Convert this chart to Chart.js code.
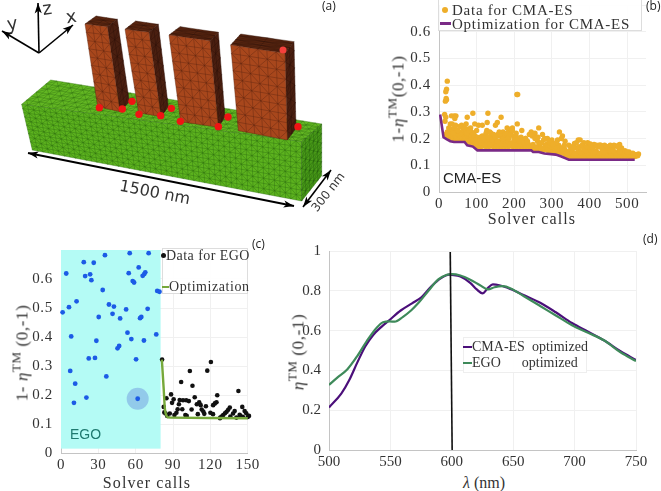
<!DOCTYPE html>
<html>
<head>
<meta charset="utf-8">
<script src="https://cdn.jsdelivr.net/npm/chart.js@4"></script>
<style>
  html, body { margin: 0; padding: 0; background: #fff; overflow: hidden; }
  body { position: relative; width: 661px; height: 491px; }
  canvas { position: absolute; }
  .txt { position: absolute; white-space: pre; color: #333; font-family: "Liberation Serif", serif; line-height: 1; }
  .c { transform: translate(-50%, -50%); }
  .title { font-size: 16px; letter-spacing: 1.1px; }
  .ytitle { font-size: 17px; letter-spacing: .6px; }
  .ytitle sup { font-size: 13px; line-height: 0; }
  .panel { font-family: "Open Sans", sans-serif; font-size: 12px; color: #222; }
  .box { position: absolute; background: rgba(255,255,255,.9); border: 1px solid #ddd; box-sizing: border-box; }
  .key { position: absolute; }
</style>
</head>
<body>
<canvas id="mesh" width="345" height="225" style="left:0;top:0"></canvas>
<canvas id="chartB" style="left:400px;top:-12px"></canvas>
<canvas id="chartC" style="left:0;top:233px"></canvas>
<canvas id="chartD" style="left:290px;top:234px"></canvas>

<div class="txt panel" style="left:322px;top:0px">(a)</div>
<div class="txt panel" style="left:646px;top:0px">(b)</div>
<div class="txt panel" style="left:252px;top:238px">(c)</div>
<div class="txt panel" style="left:643px;top:233px">(d)</div>

<div class="txt c" style="left:47px;top:8px;font:18px 'DejaVu Sans';transform:translate(-50%,-50%) rotate(-8deg)">z</div>
<div class="txt c" style="left:71px;top:16px;font:18px 'DejaVu Sans';transform:translate(-50%,-50%) rotate(-8deg)">x</div>
<div class="txt c" style="left:12px;top:23px;font:18px 'DejaVu Sans';transform:translate(-50%,-50%) rotate(-8deg)">y</div>
<div class="txt c" style="left:155px;top:192px;font:16px 'DejaVu Sans';transform:translate(-50%,-50%) rotate(11deg)">1500 nm</div>
<div class="txt c" style="left:328px;top:192px;font:12px 'DejaVu Sans';transform:translate(-50%,-50%) rotate(-52deg)">300 nm</div>

<div class="box" style="left:438px;top:-1px;width:204px;height:32px"></div>
<div class="key" style="left:442px;top:7px;width:6px;height:6px;border-radius:50%;background:#eeae2a"></div>
<div class="txt title" style="left:452px;top:3px;letter-spacing:.75px;font-size:15px">Data for CMA-ES</div>
<div class="key" style="left:440px;top:22px;width:11px;height:3px;background:#7a2a86"></div>
<div class="txt title" style="left:452px;top:17px;letter-spacing:.75px;font-size:15px">Optimization for CMA-ES</div>
<div class="txt" style="left:443px;top:169px;font:15px 'Liberation Sans';color:#222">CMA-ES</div>
<div class="txt title c" style="left:532px;top:219px">Solver calls</div>
<div class="txt ytitle c" style="left:398px;top:99px;transform:translate(-50%,-50%) rotate(-90deg)">1-<i>η</i><sup>TM</sup>(0,-1)</div>

<div class="box" style="left:162px;top:248px;width:86px;height:46px"></div>
<div class="key" style="left:161px;top:253px;width:5px;height:5px;border-radius:50%;background:#111"></div>
<div class="txt" style="left:166px;top:249px;font-size:14px;letter-spacing:.45px">Data for EGO</div>
<div class="key" style="left:162px;top:286px;width:7px;height:2px;background:#76a83a"></div>
<div class="txt" style="left:169px;top:280px;font-size:14px;letter-spacing:.55px">Optimization</div>
<div class="txt" style="left:70px;top:426px;font:14px 'Liberation Sans';color:#1f7a70">EGO</div>
<div class="txt title c" style="left:147px;top:483px">Solver calls</div>
<div class="txt ytitle c" style="left:22px;top:353px;transform:translate(-50%,-50%) rotate(-90deg)">1- <i>η</i><sup>TM</sup> (0,-1)</div>

<div class="box" style="left:463px;top:337px;width:124px;height:36px;border-color:#eee"></div>
<div class="key" style="left:463px;top:346px;width:9px;height:2px;background:#4b0f7a"></div>
<div class="txt" style="left:472px;top:340px;font-size:14px">CMA-ES  optimized</div>
<div class="key" style="left:463px;top:362px;width:9px;height:2px;background:#3e8a5a"></div>
<div class="txt" style="left:472px;top:356px;font-size:14px">EGO      optimized</div>
<div class="txt c" style="left:484px;top:483px;font-size:16px"><i>λ</i> (nm)</div>
<div class="txt ytitle c" style="left:298px;top:352px;transform:translate(-50%,-50%) rotate(-90deg)"><i>η</i><sup>TM</sup> (0,-1)</div>

<script>
// (b) CMA-ES
const cmaTicks = [0,100,200,300,400,500];
const cmaCalls = [
  22,20,18,20,17,19,209,207,15,18,16,33,40,45,42,30,90,130,75,165,155,150,208,128,105,115,95,265,320,245,255,185,195,170,
  18,20,22,25,27,30,33,36,39,42,45,48,51,54,57,60,63,66,69,72,75,78,81,84,87,90,93,96,99,
  22,25,28,31,34,37,40,43,46,49,52,55,58,61,64,67,70,73,76,79,82,85,88,91,94,97,100,
  28,35,41,47,53,59,65,71,77,83,89,95,101,26,38,50,62,74,86,98,
  104,108,112,116,120,124,128,132,136,140,144,148,152,156,160,164,168,172,176,180,184,188,192,196,200,204,208,212,216,220,224,228,232,236,240,
  106,111,117,123,129,135,141,147,153,159,165,171,177,183,189,195,201,207,213,219,225,231,237,243,
  110,122,134,138,146,158,162,174,178,186,190,198,202,206,210,218,222,
  127,142,157,168,181,193,215,230,248,258,
  244,248,252,256,260,264,268,272,276,280,284,288,292,296,300,304,308,312,316,320,324,328,332,336,340,
  250,258,266,274,282,290,298,306,314,322,330,338,
  262,270,278,286,294,302,310,318,326,334,
  275,288,300,312,335,328,
  344,348,352,356,360,364,368,372,376,380,384,388,392,396,400,404,408,412,416,420,424,428,432,436,440,444,448,452,456,460,464,468,472,476,480,484,488,492,496,500,504,508,512,516,520,524,528,530,
  346,354,362,370,378,386,394,402,410,418,426,434,442,450,458,466,474,482,490,498,506,514,522,
  350,358,366,374,382,390,398,406,414,422,430,438,446,454,462,470,478,486,494,
  345,360,372,385,398,412,425,440,452,465,480,505,525,
  370,395,418,445,478,480,350,340,385,
  110,115,120,125,130,135,140,145,150,155,160,165,170,175,180,185,190,195,200,205,210,215,220,225,230,235,240,
  35,44,55,60,68,72,80,84,92,100,
  355,365,375,380,392,402,408,420,428,433,445,455,462,475,485,500,515,
  255,263,272,281,292,303,315,325,333
];
const cmaLoss = [
  .415,.385,.375,.345,.34,.35,.365,.365,.29,.28,.265,.285,.285,.285,.275,.255,.295,.295,.28,.28,.26,.25,.255,.26,.25,.25,.255,.24,.225,.225,.22,.235,.24,.225,
  .215,.212,.21,.21,.206,.204,.202,.2,.2,.2,.2,.2,.2,.2,.2,.2,.2,.2,.196,.192,.19,.188,.186,.184,.182,.18,.178,.175,.17,
  .225,.22,.215,.215,.22,.208,.215,.21,.206,.21,.215,.206,.21,.205,.215,.204,.205,.203,.21,.205,.196,.2,.197,.192,.2,.186,.185,
  .235,.235,.24,.23,.225,.225,.23,.225,.235,.215,.22,.21,.205,.24,.22,.23,.245,.22,.225,.195,
  .17,.175,.17,.172,.18,.17,.178,.17,.172,.18,.17,.176,.17,.182,.17,.175,.17,.18,.17,.176,.17,.172,.18,.17,.178,.17,.17,.182,.17,.175,.17,.178,.17,.174,.17,
  .19,.185,.195,.175,.19,.18,.195,.185,.175,.19,.18,.195,.18,.19,.175,.185,.175,.18,.19,.178,.185,.172,.18,.172,
  .205,.21,.205,.22,.2,.215,.21,.205,.215,.2,.225,.21,.195,.205,.198,.205,.195,
  .23,.2,.215,.205,.24,.23,.198,.2,.21,.205,
  .168,.172,.163,.163,.168,.16,.165,.162,.157,.158,.165,.156,.158,.152,.158,.155,.152,.152,.156,.146,.152,.146,.148,.14,.136,
  .178,.168,.18,.162,.175,.162,.17,.165,.16,.165,.155,.152,
  .19,.182,.195,.178,.185,.178,.17,.175,.165,.16,
  .215,.2,.195,.185,.19,.21,
  .133,.136,.133,.14,.133,.136,.133,.142,.133,.135,.133,.14,.133,.136,.133,.145,.133,.138,.133,.14,.133,.135,.133,.142,.133,.136,.133,.14,.133,.135,.133,.145,.133,.138,.133,.14,.133,.135,.133,.142,.133,.136,.133,.138,.133,.135,.136,.142,
  .148,.155,.145,.16,.148,.15,.145,.158,.145,.152,.145,.16,.147,.155,.145,.15,.145,.158,.145,.14,.14,.135,.14,
  .16,.17,.165,.152,.17,.155,.165,.17,.15,.168,.175,.15,.17,.155,.16,.172,.155,.15,.155,
  .175,.182,.17,.185,.17,.178,.175,.175,.165,.175,.178,.15,.14,
  .195,.185,.175,.165,.175,.15,.17,.145,.16,
  .195,.21,.2,.22,.205,.225,.195,.215,.205,.19,.225,.21,.2,.215,.22,.205,.215,.23,.195,.22,.2,.19,.23,.185,.2,.19,.215,
  .255,.25,.245,.25,.24,.255,.23,.24,.22,.23,
  .165,.185,.195,.175,.17,.18,.165,.17,.175,.165,.17,.175,.155,.17,.165,.15,.145,
  .2,.205,.185,.2,.19,.18,.195,.2,.175
];
const cmaBestCalls = [3,12,20,30,40,68,75,90,102,245,250,265,280,310,325,335,345,520];
const cmaBest = [.29,.205,.198,.19,.187,.187,.175,.17,.156,.156,.15,.15,.144,.14,.133,.127,.121,.121];

// (c) EGO, the initial sample first, then the infill points
const egoTicks = [0,30,60,90,120,150];
const egoSampleCalls = [1.3,4.2,6.4,12.5,8.2,7.4,11.4,10.4,18.3,19.4,23.4,24.4,26.3,35.3,55.2,70.4,33.5,30.3,38.5,42.5,41.4,47.5,52.3,54.4,62.4,57.6,58.7,65.6,66.9,67.7,77.3,79.1,69.6,64.5,63.5,76.5,53.4,56.5,66.6,28.4,45.4,46.7,22.3,27.3,60.3,36.4,20.4,61.6];
const egoSampleLoss = [.485,.619,.503,.523,.402,.283,.239,.173,.658,.61,.616,.596,.656,.682,.689,.689,.562,.469,.512,.505,.48,.464,.495,.62,.64,.593,.588,.611,.617,.623,.559,.556,.497,.469,.465,.409,.415,.393,.388,.387,.361,.369,.326,.328,.323,.264,.191,.187];
const egoCalls = [81.2,120.4,103.5,117.5,96.5,105.6,142.5,125.5,88.4,84.7,107.4,90.5,95.3,98,100.6,102.7,89.2,94.7,124.9,123.6,122.2,111,109.1,112.2,116.4,93.7,97.4,104.9,82.5,145.6,113,114.3,115.1,135.6,134.3,133,131.7,130.3,129,147.5,148.8,139.5,138.2,87.4,92.7,91.1,84,85.3,99.9,101,109.9,120,122.1,143.5,151,127.7,140.9,83,150,146,144,136,128];
const egoLoss = [.322,.314,.283,.284,.245,.232,.214,.199,.202,.189,.192,.185,.183,.182,.182,.179,.173,.168,.175,.171,.165,.175,.168,.165,.161,.151,.151,.15,.159,.159,.15,.143,.135,.157,.149,.142,.137,.131,.126,.145,.137,.145,.136,.136,.139,.131,.136,.128,.131,.128,.134,.139,.134,.132,.128,.12,.122,.14,.124,.125,.128,.126,.122];
const egoBestCalls = [81,82.5,83.5,85,88,150];
const egoBest = [.322,.22,.15,.126,.122,.12];
const highlightCall = [61.6];
const highlightLoss = [.187];
const sampleEnd = 80;
const sampleFloor = 0.015;

// (d) spectra
const waveTicks = [500,550,600,650,700,750];
const cmaWave = [500,510,516.3,523,529.5,536,542.7,549,558.4,567.6,575.5,583.4,591.3,597.9,600,607,615,620.3,625,629.5,633.4,638.7,645.3,658.4,671.6,684.7,697.9,711,724.2,737.4,750];
const cmaEff = [.214,.283,.349,.439,.52,.578,.619,.652,.701,.737,.769,.823,.864,.881,.88,.872,.84,.807,.787,.815,.832,.828,.815,.779,.741,.692,.638,.594,.55,.496,.452];
const egoWave = [500,507,515,523,531,539,544,549.5,553.5,560,566.8,573.3,581,589,596,600,607,615,623,629.5,634.8,641.4,648,658.4,671.6,684.7,697.9,711,724.2,737.4,750];
const egoEff = [.327,.365,.406,.472,.55,.616,.642,.646,.645,.668,.701,.742,.8,.857,.881,.884,.877,.856,.828,.807,.818,.823,.812,.774,.725,.676,.627,.589,.55,.491,.447];
const markWave = [598.7,600.3];
const markEff = [.995,0];

const pts = (xs, ys) => xs.map((x, i) => ({ x, y: ys[i] }));

const SERIF = "'Liberation Serif', serif";
const spacing = px => ({
  id: "spacing",
  beforeDraw: chart => { chart.ctx.letterSpacing = px; }
});

function axes(o) {
  return {
    x: {
      type: "linear", min: o.xMin, max: o.xMax,
      afterFit: s => { s.height = 20; },
      afterBuildTicks: s => { s.ticks = o.xTicks.map(value => ({ value })); },
      grid: { color: "#f0f0f0", drawTicks: false },
      border: { color: "#c4c4c4" },
      ticks: { padding: 3, maxRotation: 0, autoSkip: false, color: "#333", font: { family: SERIF, size: o.size }, callback: v => String(v) }
    },
    y: {
      min: 0, max: o.yMax,
      afterFit: s => { s.width = o.yWidth; },
      grid: { color: "#f0f0f0", drawTicks: false },
      border: { color: "#c4c4c4" },
      ticks: {
        stepSize: o.yStep, padding: 8, color: "#333", font: { family: SERIF, size: o.size },
        callback: v => v === 0 ? "0" : v > 0.65 && o.yMax < 1 ? "" : v === 1 ? "1" : v.toFixed(1)
      }
    }
  };
}

function makeChart(id, w, h, datasets, scales, padding, plugins) {
  const canvas = document.getElementById(id);
  canvas.width = w;
  canvas.height = h;
  return new Chart(canvas, {
    type: "scatter",
    data: { datasets },
    options: {
      responsive: false,
      animation: false,
      layout: { padding },
      plugins: { legend: { display: false }, tooltip: { enabled: false } },
      scales
    },
    plugins
  });
}

makeChart("chartB", 261, 224, [
  { data: pts(cmaCalls, cmaLoss), backgroundColor: "#eeae2a", borderWidth: 0, pointRadius: 2.7, order: 2 },
  { data: pts(cmaBestCalls, cmaBest), showLine: true, borderColor: "#7a2a86", borderWidth: 2.6, pointRadius: 0, tension: 0, order: 1 }
], axes({ xMin: 0, xMax: 550, xTicks: cmaTicks, yMax: .7, yStep: .1, yWidth: 39, size: 15 }),
  { top: 12, right: 15, left: 0, bottom: 0 }, [spacing("0.7px")]);

const cyanBand = {
  id: "cyanBand",
  beforeDatasetsDraw(chart) {
    const { ctx, scales: { x, y }, chartArea } = chart;
    ctx.save();
    ctx.fillStyle = "#b4fbf5";
    ctx.fillRect(x.getPixelForValue(0), chartArea.top, x.getPixelForValue(sampleEnd) - x.getPixelForValue(0), y.getPixelForValue(sampleFloor) - chartArea.top);
    ctx.restore();
  }
};

makeChart("chartC", 262, 240, [
  { data: pts(egoBestCalls, egoBest), showLine: true, borderColor: "#76a83a", borderWidth: 2.4, pointRadius: 0, tension: .2, order: 1, clip: false },
  { data: pts(egoCalls, egoLoss), backgroundColor: "#111", borderWidth: 0, pointRadius: 2.3, order: 2, clip: false },
  { data: pts(egoSampleCalls, egoSampleLoss), backgroundColor: "#1c5be6", borderWidth: 0, pointRadius: 2.4, order: 3, clip: false },
  { data: pts(highlightCall, highlightLoss), backgroundColor: "rgba(70,90,210,.3)", borderWidth: 0, pointRadius: 11, order: 4 }
], axes({ xMin: 0, xMax: 150, xTicks: egoTicks, yMax: .7, yStep: .1, yWidth: 61, size: 15 }),
  { top: 12, right: 12, left: 0, bottom: 0 }, [spacing("0.7px"), cyanBand]);

makeChart("chartD", 371, 236, [
  { data: pts(markWave, markEff), showLine: true, borderColor: "#111", borderWidth: 1.6, pointRadius: 0, order: 1, clip: false },
  { data: pts(egoWave, egoEff), showLine: true, borderColor: "#3e8a5a", borderWidth: 2.2, pointRadius: 0, cubicInterpolationMode: "monotone", order: 2 },
  { data: pts(cmaWave, cmaEff), showLine: true, borderColor: "#4b0f7a", borderWidth: 2.2, pointRadius: 0, cubicInterpolationMode: "monotone", order: 3 }
], axes({ xMin: 500, xMax: 750, xTicks: waveTicks, yMax: 1, yStep: .2, yWidth: 39, size: 15 }),
  { top: 12, right: 25, left: 0, bottom: 0 }, []);

// (a) device sketch, not a chart: mesh faces on a plain canvas
const ctx = document.getElementById("mesh").getContext("2d");
const S = 1 / 3;

function meshFace(p, nu, nv, fill, edge) {
  const at = (u, v) => {
    const a = [p[0][0] + (p[1][0] - p[0][0]) * u, p[0][1] + (p[1][1] - p[0][1]) * u];
    const b = [p[3][0] + (p[2][0] - p[3][0]) * u, p[3][1] + (p[2][1] - p[3][1]) * u];
    return [(a[0] + (b[0] - a[0]) * v) * S, (a[1] + (b[1] - a[1]) * v) * S];
  };
  ctx.beginPath();
  p.forEach((q, i) => i ? ctx.lineTo(q[0] * S, q[1] * S) : ctx.moveTo(q[0] * S, q[1] * S));
  ctx.closePath();
  ctx.fillStyle = fill;
  ctx.fill();
  ctx.strokeStyle = edge;
  ctx.lineWidth = .4;
  ctx.beginPath();
  for (let i = 0; i <= nu; i++) {
    ctx.moveTo(...at(i / nu, 0));
    ctx.lineTo(...at(i / nu, 1));
  }
  for (let j = 0; j <= nv; j++) {
    ctx.moveTo(...at(0, j / nv));
    ctx.lineTo(...at(1, j / nv));
  }
  for (let i = 0; i < nu; i++) {
    for (let j = 0; j < nv; j++) {
      if ((i + j) % 2) {
        ctx.moveTo(...at(i / nu, j / nv));
        ctx.lineTo(...at((i + 1) / nu, (j + 1) / nv));
      } else {
        ctx.moveTo(...at((i + 1) / nu, j / nv));
        ctx.lineTo(...at(i / nu, (j + 1) / nv));
      }
    }
  }
  ctx.stroke();
}

function arrow(x0, y0, x1, y1, both, w) {
  const head = (xa, ya, xb, yb) => {
    const t = Math.atan2(yb - ya, xb - xa), l = 11;
    ctx.beginPath();
    ctx.moveTo(xb, yb);
    ctx.lineTo(xb - l * Math.cos(t - .33), yb - l * Math.sin(t - .33));
    ctx.lineTo(xb - l * .7 * Math.cos(t), yb - l * .7 * Math.sin(t));
    ctx.lineTo(xb - l * Math.cos(t + .33), yb - l * Math.sin(t + .33));
    ctx.closePath();
    ctx.fill();
  };
  ctx.strokeStyle = "#000";
  ctx.fillStyle = "#000";
  ctx.lineWidth = w;
  ctx.beginPath();
  ctx.moveTo(x0, y0);
  ctx.lineTo(x1, y1);
  ctx.stroke();
  head(x0, y0, x1, y1);
  if (both) head(x1, y1, x0, y0);
}

meshFace([[152,240],[965,372],[905,425],[65,313]], 44, 6, "#62b622", "#2f7012");
meshFace([[65,313],[905,425],[905,603],[97,450]], 50, 11, "#5cb21e", "#2a6a10");
meshFace([[905,425],[965,372],[965,527],[905,603]], 5, 11, "#4a9c18", "#1f560c");

const pillars = [
  { f: [[255,72],[322,80],[360,335],[293,320]], t: [[255,72],[288,48],[352,58],[322,80]], s: [[322,80],[352,58],[388,305],[360,335]], n: 3 },
  { f: [[375,88],[447,97],[483,350],[416,338]], t: [[375,88],[407,63],[475,73],[447,97]], s: [[447,97],[475,73],[505,320],[483,350]], n: 3 },
  { f: [[507,105],[630,122],[655,382],[542,365]], t: [[507,105],[540,80],[655,97],[630,122]], s: [[630,122],[655,97],[675,350],[655,382]], n: 5 },
  { f: [[692,135],[855,160],[862,420],[715,392]], t: [[692,135],[722,102],[882,125],[855,160]], s: [[855,160],[882,125],[888,385],[862,420]], n: 6 }
];
pillars.forEach(p => {
  meshFace(p.t, p.n, 2, "#5a2610", "#33140a");
  meshFace(p.s, 2, 10, "#4a1f10", "#2a0f07");
  meshFace(p.f, p.n, 10, "#a8471c", "#5c2410");
});

[[298,323],[367,327],[396,304],[417,343],[482,347],[514,325],[541,364],[655,380],[684,351],[894,380]].forEach(d => {
  ctx.fillStyle = "#f01414";
  ctx.beginPath();
  ctx.arc(d[0] * S, d[1] * S, 3.7, 0, 7);
  ctx.fill();
});
ctx.fillStyle = "#f5403c";
ctx.beginPath();
ctx.arc(283, 50, 3.5, 0, 7);
ctx.fill();

arrow(39, 53, 38, 3, false, 1.6);
arrow(39, 53, 2, 31, false, 1.6);
arrow(39, 53, 73, 25, false, 1.6);
arrow(28, 153, 294, 206, true, 1.8);
arrow(303, 207, 331, 170, true, 1.6);
</script>
</body>
</html>
